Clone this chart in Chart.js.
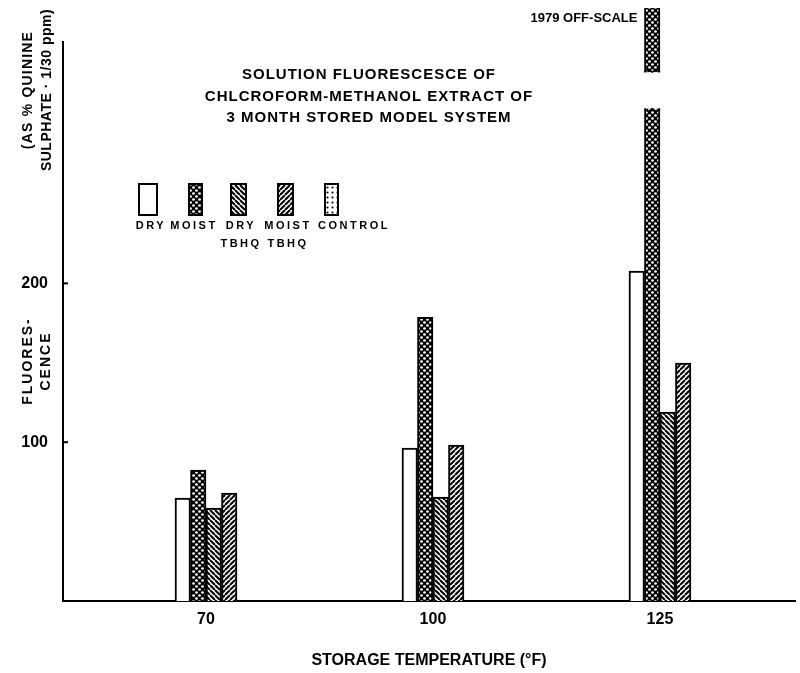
<!DOCTYPE html>
<html>
<head>
<meta charset="utf-8">
<script src="https://cdn.jsdelivr.net/npm/chart.js@4"></script>
<style>
  html, body { margin: 0; padding: 0; background: #fff; }
  #wrap { width: 800px; height: 673px; }
</style>
</head>
<body>
<div id="wrap"><canvas id="chart"></canvas></div>
<script>
// storage temperatures (deg F) and fluorescence per sample type
const temps = ["70", "100", "125"];
const dry = [64.8, 96.3, 207.7];
const moist = [82.4, 178.7, 1979];
const dryTbhq = [58.5, 65.5, 119];
const moistTbhq = [68, 98.2, 149.8];
const control = [null, null, null];
const seriesNames = [["DRY"], ["MOIST"], ["DRY", "TBHQ"], ["MOIST", "TBHQ"], ["CONTROL"]];
const yTicks = [100, 200];
const titleLines = [
  "SOLUTION FLUORESCESCE OF",
  "CHLCROFORM-METHANOL EXTRACT OF",
  "3 MONTH STORED MODEL SYSTEM",
];
const offScaleNote = "1979 OFF-SCALE";
// axis break drawn across the off-scale bar
const breakFrom = 310;
const breakTo = 333;

const FONT = "'Liberation Sans', Arial, sans-serif";

const canvas = document.getElementById("chart");
const ctx = canvas.getContext("2d");

function makePattern(size, draw) {
  const c = document.createElement("canvas");
  c.width = c.height = size;
  const g = c.getContext("2d");
  g.fillStyle = "#fff";
  g.fillRect(0, 0, size, size);
  draw(g, size);
  return ctx.createPattern(c, "repeat");
}

// coarse black/white "gravel" fill
const gravel = makePattern(6, (g, s) => {
  g.fillStyle = "#000";
  g.fillRect(0, 0, s, s);
  g.fillStyle = "#fff";
  [[1.5, 1.5], [4.5, 4.5]].forEach(([x, y]) => {
    g.beginPath();
    g.ellipse(x, y, 1.4, 1.2, 0, 0, Math.PI * 2);
    g.fill();
  });
});

function hatch(down) {
  return makePattern(5, (g, s) => {
    g.strokeStyle = "#000";
    g.lineWidth = 2.1;
    g.beginPath();
    for (let k = -1; k <= 1; k++) {
      if (down) {
        g.moveTo(k * s, 0);
        g.lineTo(k * s + s, s);
      } else {
        g.moveTo(k * s, s);
        g.lineTo(k * s + s, 0);
      }
    }
    g.stroke();
  });
}

const dots = makePattern(5, (g) => {
  g.fillStyle = "#000";
  g.beginPath();
  g.arc(2.5, 2.5, 1.1, 0, Math.PI * 2);
  g.fill();
});

const fills = ["#fff", gravel, hatch(true), hatch(false), dots];
const series = [dry, moist, dryTbhq, moistTbhq, control];

const datasets = series.map((values, i) => ({
  label: seriesNames[i].join(" "),
  data: values.map((v, j) => ({ x: j, y: v })),
  backgroundColor: fills[i],
  borderColor: "#000",
  borderWidth: 2,
  borderSkipped: "start",
  barThickness: 15.5,
  // let the off-scale bar run above the plot top
  clip: { left: 0, right: 0, bottom: 0, top: 34 },
}));

function spaced(text, x, y, spacing) {
  ctx.letterSpacing = spacing + "px";
  ctx.fillText(text, x, y);
  ctx.letterSpacing = "0px";
}

const yTitleBlocks = [
  { lines: [["(AS % QUININE", 28, 1.2], ["SULPHATE · 1/30 ppm)", 47, 0.5]], cy: 90 },
  { lines: [["FLUORES-", 28, 2], ["CENCE", 46, 2]], cy: 361 },
];

// legend swatch x/width and label centre
const legendSlots = [
  { box: [139, 18], text: 150 },
  { box: [189, 13], text: 193 },
  { box: [231, 15], text: 240 },
  { box: [278, 15], text: 287 },
  { box: [325, 13], text: 353 },
];

const decor = {
  id: "decor",
  afterDatasetsDraw(chart) {
    const c = chart.ctx;
    const y = chart.scales.y;
    const bar = chart.getDatasetMeta(1).data[2];
    const left = bar.x - bar.width / 2 - 2;
    const w = bar.width + 4;
    const top = y.getPixelForValue(breakTo);
    const bottom = y.getPixelForValue(breakFrom);
    c.save();
    c.fillStyle = "#fff";
    c.fillRect(left, top, w, bottom - top);
    // jagged ends at the break
    c.strokeStyle = "#000";
    c.lineWidth = 1.5;
    [top, bottom].forEach((py, k) => {
      c.beginPath();
      const n = 4;
      for (let i = 0; i <= n; i++) {
        const px = left + 2 + (i * (w - 4)) / n;
        const dy = (i % 2 ? 3 : 0) * (k ? 1 : -1);
        if (i === 0) c.moveTo(px, py + dy);
        else c.lineTo(px, py + dy);
      }
      c.stroke();
    });
    // off-scale note
    c.fillStyle = "#000";
    c.font = "bold 13px " + FONT;
    c.textAlign = "right";
    c.textBaseline = "middle";
    c.fillText(offScaleNote, bar.x - bar.width / 2 - 7, 18);
    c.restore();
  },
  afterDraw(chart) {
    const c = chart.ctx;
    const area = chart.chartArea;
    const y = chart.scales.y;
    c.save();
    c.fillStyle = "#000";
    c.strokeStyle = "#000";

    // inward tick marks on the y axis
    c.lineWidth = 2;
    yTicks.forEach((v) => {
      const py = y.getPixelForValue(v);
      c.beginPath();
      c.moveTo(area.left, py);
      c.lineTo(area.left + 5, py);
      c.stroke();
    });

    // chart title
    c.font = "bold 15px " + FONT;
    c.textAlign = "center";
    c.textBaseline = "middle";
    titleLines.forEach((line, i) => spaced(line, 369, 75 + i * 21.5, 1));

    // rotated y axis title in two blocks
    c.font = "bold 14px " + FONT;
    yTitleBlocks.forEach((block) => {
      block.lines.forEach(([text, x, sp]) => {
        c.save();
        c.translate(x, block.cy);
        c.rotate(-Math.PI / 2);
        spaced(text, 0, 0, sp);
        c.restore();
      });
    });

    // legend: pattern swatches with labels underneath
    chart.data.datasets.forEach((ds, i) => {
      const s = legendSlots[i];
      c.fillStyle = ds.backgroundColor;
      c.fillRect(s.box[0], 184, s.box[1], 31);
      c.lineWidth = 2;
      c.strokeRect(s.box[0], 184, s.box[1], 31);
      c.fillStyle = "#000";
      c.font = "bold 11px " + FONT;
      seriesNames[i].forEach((word, k) => spaced(word, s.text + 1, 226 + k * 18, 2.5));
    });
    c.restore();
  },
};

new Chart(ctx, {
  type: "bar",
  data: { datasets },
  options: {
    responsive: true,
    maintainAspectRatio: false,
    animation: false,
    skipNull: true,
    layout: { padding: { top: 42, right: 5, left: 0, bottom: 0 } },
    plugins: {
      legend: { display: false },
      tooltip: { enabled: false },
    },
    scales: {
      x: {
        type: "linear",
        offset: false,
        min: -0.63,
        max: 2.595,
        grid: { display: false, drawTicks: false, offset: false },
        border: { display: true, color: "#000", width: 2 },
        afterBuildTicks: (scale) => {
          scale.ticks = temps.map((t, i) => ({ value: i }));
        },
        afterFit: (scale) => {
          scale.height = 72;
        },
        ticks: {
          callback: (v) => temps[v],
          color: "#000",
          font: { family: FONT, size: 16, weight: "bold" },
          padding: 9,
          autoSkip: false,
          maxRotation: 0,
        },
        title: {
          display: true,
          text: "STORAGE TEMPERATURE (°F)",
          color: "#000",
          font: { family: FONT, size: 16, weight: "bold" },
          padding: { top: 0, bottom: 3 },
        },
      },
      y: {
        min: 0,
        max: 352,
        grid: { display: false, drawTicks: false },
        border: { display: true, color: "#000", width: 2 },
        afterBuildTicks: (scale) => {
          scale.ticks = yTicks.map((v) => ({ value: v }));
        },
        afterFit: (scale) => {
          scale.width = 63;
        },
        ticks: {
          color: "#000",
          font: { family: FONT, size: 16, weight: "bold" },
          padding: 15,
        },
      },
    },
  },
  plugins: [decor],
});
</script>
</body>
</html>
